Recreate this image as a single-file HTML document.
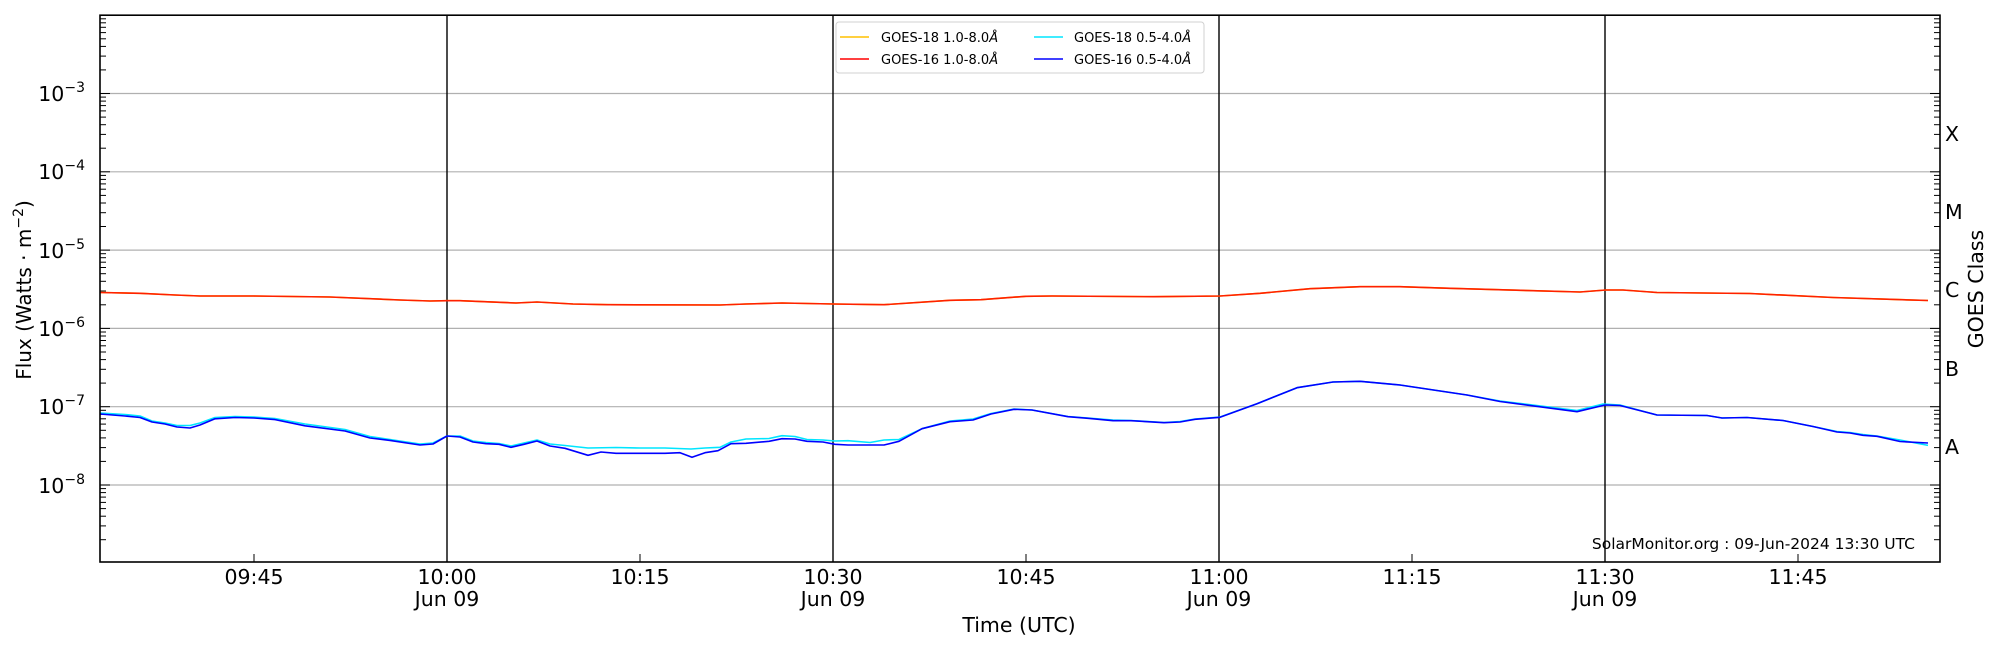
<!DOCTYPE html>
<html><head><meta charset="utf-8"><style>
html,body{margin:0;padding:0;background:#fff;}
svg{display:block;font-family:"DejaVu Sans","Liberation Sans",sans-serif;}
</style></head><body>
<svg width="2000" height="650" viewBox="0 0 2000 650" xmlns="http://www.w3.org/2000/svg">
<defs>
<g id="mL" stroke="#000" stroke-width="1">
<line x1="100" x2="106" y1="-23.6" y2="-23.6"/><line x1="100" x2="106" y1="-37.4" y2="-37.4"/>
<line x1="100" x2="106" y1="-47.1" y2="-47.1"/><line x1="100" x2="106" y1="-54.7" y2="-54.7"/>
<line x1="100" x2="106" y1="-60.9" y2="-60.9"/><line x1="100" x2="106" y1="-66.2" y2="-66.2"/>
<line x1="100" x2="106" y1="-70.7" y2="-70.7"/><line x1="100" x2="106" y1="-74.7" y2="-74.7"/>
</g>
<g id="mR" stroke="#000" stroke-width="1">
<line x1="1934" x2="1940" y1="-23.6" y2="-23.6"/><line x1="1934" x2="1940" y1="-37.4" y2="-37.4"/>
<line x1="1934" x2="1940" y1="-47.1" y2="-47.1"/><line x1="1934" x2="1940" y1="-54.7" y2="-54.7"/>
<line x1="1934" x2="1940" y1="-60.9" y2="-60.9"/><line x1="1934" x2="1940" y1="-66.2" y2="-66.2"/>
<line x1="1934" x2="1940" y1="-70.7" y2="-70.7"/><line x1="1934" x2="1940" y1="-74.7" y2="-74.7"/>
</g>
</defs>
<g stroke="#b0b0b0" stroke-width="1.2">
<line x1="100" x2="1940" y1="93.5" y2="93.5"/><line x1="100" x2="1940" y1="171.8" y2="171.8"/>
<line x1="100" x2="1940" y1="250.1" y2="250.1"/><line x1="100" x2="1940" y1="328.4" y2="328.4"/>
<line x1="100" x2="1940" y1="406.7" y2="406.7"/><line x1="100" x2="1940" y1="485" y2="485"/>
</g>
<g stroke="#000" stroke-width="1.4">
<line x1="447" x2="447" y1="15.2" y2="562"/><line x1="833" x2="833" y1="15.2" y2="562"/>
<line x1="1219" x2="1219" y1="15.2" y2="562"/><line x1="1605" x2="1605" y1="15.2" y2="562"/>
</g>
<use href="#mL" transform="translate(0,563.3)"/><use href="#mL" transform="translate(0,485)"/>
<use href="#mL" transform="translate(0,406.7)"/><use href="#mL" transform="translate(0,328.4)"/>
<use href="#mL" transform="translate(0,250.1)"/><use href="#mL" transform="translate(0,171.8)"/>
<use href="#mL" transform="translate(0,93.5)"/>
<use href="#mR" transform="translate(0,563.3)"/><use href="#mR" transform="translate(0,485)"/>
<use href="#mR" transform="translate(0,406.7)"/><use href="#mR" transform="translate(0,328.4)"/>
<use href="#mR" transform="translate(0,250.1)"/><use href="#mR" transform="translate(0,171.8)"/>
<use href="#mR" transform="translate(0,93.5)"/>
<g stroke="#000" stroke-width="1">
<line x1="100" x2="110" y1="93.5" y2="93.5"/><line x1="100" x2="110" y1="171.8" y2="171.8"/>
<line x1="100" x2="110" y1="250.1" y2="250.1"/><line x1="100" x2="110" y1="328.4" y2="328.4"/>
<line x1="100" x2="110" y1="406.7" y2="406.7"/><line x1="100" x2="110" y1="485" y2="485"/>
<line x1="1930" x2="1940" y1="93.5" y2="93.5"/><line x1="1930" x2="1940" y1="171.8" y2="171.8"/>
<line x1="1930" x2="1940" y1="250.1" y2="250.1"/><line x1="1930" x2="1940" y1="328.4" y2="328.4"/>
<line x1="1930" x2="1940" y1="406.7" y2="406.7"/><line x1="1930" x2="1940" y1="485" y2="485"/>
<line x1="254" x2="254" y1="562" y2="554"/><line x1="640" x2="640" y1="562" y2="554"/>
<line x1="1026" x2="1026" y1="562" y2="554"/><line x1="1412" x2="1412" y1="562" y2="554"/>
<line x1="1798" x2="1798" y1="562" y2="554"/>
</g>
<g fill="none" stroke-width="1.6" stroke-linejoin="round">
<polyline stroke="#ffc000" points="100,292.5 140,293.3 175,295 200,296 254,296 330,297 400,300 430,301 447,300.7 460,300.7 516,303 537,302 573,304 608,304.7 720,305 746,304 782,303 833,304 884,304.7 950,300.3 981,299.7 1026,296.3 1052,296 1154,296.7 1220,296 1260,293.3 1310,288.7 1360,286.7 1400,286.7 1450,288.3 1533,290.7 1580,292 1606,290 1623,290 1657,292.5 1750,293.5 1833,297.5 1928,300.5"/>
<polyline stroke="#ff2000" points="100,292.5 140,293.3 175,295 200,296 254,296 330,297 400,300 430,301 447,300.7 460,300.7 516,303 537,302 573,304 608,304.7 720,305 746,304 782,303 833,304 884,304.7 950,300.3 981,299.7 1026,296.3 1052,296 1154,296.7 1220,296 1260,293.3 1310,288.7 1360,286.7 1400,286.7 1450,288.3 1533,290.7 1580,292 1606,290 1623,290 1657,292.5 1750,293.5 1833,297.5 1928,300.5"/>
<polyline stroke="#00e5ff" points="100,413 125,414.5 140,416 152,421 165,423 177,425.5 190,425.5 200,423 215,417.5 235,416.5 254,417 275,418.5 305,424 345,429.5 370,436.5 390,439.5 420,444 433,443 447,436 460,436 473,441 486,442.5 499,443.5 511,446 524,443 537,440 550,444 565,445.5 588,448 616,447.5 640,448 665,448 691,449 705,448 720,447.3 731,442 746,439 769,438.5 782,435.7 795,436.5 807,439.5 823,440 835,441 848,440.7 870,442.5 884,440 899,439.5 922,428.7 950,421 973,419 991,413.5 1014,409 1032,410 1068,416.5 1088,418 1113,420 1131,420.5 1164,422.5 1180,421.5 1195,419 1220,417 1257,403.7 1297,387.7 1333,382 1360,381.3 1400,385 1467,395 1500,401 1577,410.5 1603,404 1620,405 1657,415 1707,415.5 1722,418 1747,417.5 1783,420.5 1813,426.5 1837,431.5 1850,432.5 1863,434.5 1877,436 1900,440 1928,445.4"/>
<polyline stroke="#0000ff" points="100,414 125,416 140,417.5 152,422 165,424 177,427 190,428 200,425 215,418.8 235,417.5 254,418 275,419.6 305,425.8 345,431 370,438 390,440.4 420,445 433,444 447,436 460,437 473,442 486,443.7 499,444.3 511,447.3 524,444.3 537,441 550,446 565,448.3 588,455.3 601,452 616,453.3 639,453.3 665,453.3 680,452.7 692,457.3 705,452.7 718,450.7 731,443.7 746,443.3 769,441.3 782,438.7 795,439 807,441.3 823,442 835,444.3 848,445 884,445 899,441.3 922,428.7 950,421.7 973,420 991,414 1014,409.3 1032,410 1068,416.7 1088,418.3 1113,420.7 1131,420.7 1164,422.7 1180,422 1195,419.3 1220,417.3 1257,403.7 1297,387.7 1333,382 1360,381.3 1400,385 1467,395 1500,401.5 1577,411.7 1605,405 1620,405.5 1657,415 1707,415.5 1722,418 1747,417.5 1783,420.5 1813,426.5 1837,432 1850,433 1863,435.3 1877,436.3 1900,441.5 1928,443"/>
</g>
<rect x="100" y="15.2" width="1840" height="546.8" fill="none" stroke="#000" stroke-width="1.6"/>
<rect x="836" y="22" width="368" height="51" rx="3" fill="#fff" fill-opacity="0.85" stroke="#d0d0d0" stroke-width="1"/>
<g stroke-width="1.6">
<line x1="840" x2="869" y1="37" y2="37" stroke="#ffc000"/>
<line x1="840" x2="869" y1="59" y2="59" stroke="#ff0000"/>
<line x1="1034" x2="1063" y1="37" y2="37" stroke="#00e5ff"/>
<line x1="1034" x2="1063" y1="59" y2="59" stroke="#0000ff"/>
</g>
<g font-size="13" fill="#000">
<text x="881" y="42">GOES-18 1.0-8.0<tspan font-style="italic">Å</tspan></text>
<text x="881" y="64">GOES-16 1.0-8.0<tspan font-style="italic">Å</tspan></text>
<text x="1074" y="42">GOES-18 0.5-4.0<tspan font-style="italic">Å</tspan></text>
<text x="1074" y="64">GOES-16 0.5-4.0<tspan font-style="italic">Å</tspan></text>
</g>
<g font-size="20.5" fill="#000" text-anchor="end">
<text x="85" y="101">10<tspan font-size="14" dy="-9">−3</tspan></text>
<text x="85" y="179">10<tspan font-size="14" dy="-9">−4</tspan></text>
<text x="85" y="258">10<tspan font-size="14" dy="-9">−5</tspan></text>
<text x="85" y="336">10<tspan font-size="14" dy="-9">−6</tspan></text>
<text x="85" y="414">10<tspan font-size="14" dy="-9">−7</tspan></text>
<text x="85" y="493">10<tspan font-size="14" dy="-9">−8</tspan></text>
</g>
<text transform="translate(31,290) rotate(-90)" font-size="20" text-anchor="middle">Flux (Watts · m<tspan font-size="14" dy="-8">−2</tspan><tspan dy="8">)</tspan></text>
<g font-size="20.5" fill="#000">
<text x="1945" y="141">X</text>
<text x="1945" y="219">M</text>
<text x="1945" y="297">C</text>
<text x="1945" y="376">B</text>
<text x="1945" y="454">A</text>
</g>
<text transform="translate(1983,289) rotate(-90)" font-size="20.5" text-anchor="middle">GOES Class</text>
<g font-size="20.5" fill="#000" text-anchor="middle">
<text x="254" y="584">09:45</text>
<text x="447" y="584">10:00</text><text x="447" y="606">Jun 09</text>
<text x="640" y="584">10:15</text>
<text x="833" y="584">10:30</text><text x="833" y="606">Jun 09</text>
<text x="1026" y="584">10:45</text>
<text x="1219" y="584">11:00</text><text x="1219" y="606">Jun 09</text>
<text x="1412" y="584">11:15</text>
<text x="1605" y="584">11:30</text><text x="1605" y="606">Jun 09</text>
<text x="1798" y="584">11:45</text>
<text x="1019" y="632">Time (UTC)</text>
</g>
<text x="1915" y="549" font-size="15.5" text-anchor="end">SolarMonitor.org : 09-Jun-2024 13:30 UTC</text>
</svg>
</body></html>
